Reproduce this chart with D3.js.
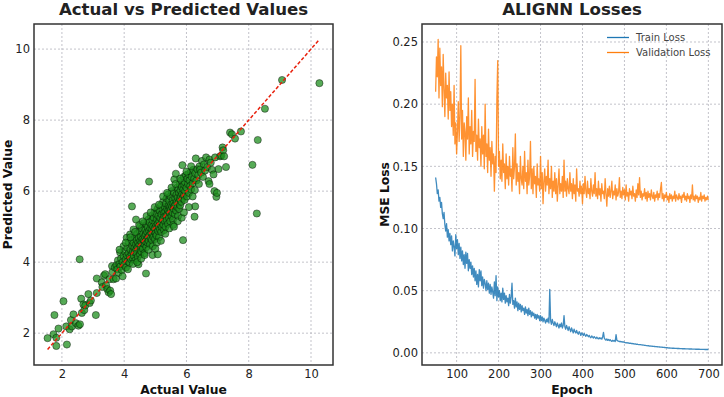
<!DOCTYPE html>
<html><head><meta charset="utf-8">
<script src="https://cdn.jsdelivr.net/npm/d3@7"></script>
<style>body{margin:0;background:#fff}svg{display:block}</style>
</head><body>
<svg id="c" width="724" height="397"></svg>
<script>
// ---------- Scatter data (Actual vs Predicted) ----------
const actual = [
1.54,1.73,1.76,1.82,1.82,1.89,2.05,2.14,2.16,2.25,2.29,2.32,2.37,2.45,2.53,2.57,2.58,2.62,2.64,2.69,
2.72,2.75,2.85,2.89,2.93,3.09,3.12,3.12,3.28,3.30,3.35,3.39,3.42,3.46,3.50,3.53,3.55,3.58,3.61,3.62,
3.66,3.70,3.74,3.75,3.78,3.80,3.82,3.85,3.87,3.88,3.90,3.92,3.95,3.98,3.98,4.00,4.02,4.05,4.06,4.08,
4.09,4.10,4.12,4.14,4.15,4.17,4.18,4.19,4.20,4.22,4.23,4.24,4.25,4.26,4.27,4.28,4.30,4.30,4.31,4.33,
4.34,4.35,4.36,4.38,4.39,4.40,4.41,4.42,4.43,4.44,4.45,4.46,4.47,4.48,4.49,4.50,4.51,4.51,4.52,4.53,
4.54,4.55,4.56,4.57,4.58,4.59,4.60,4.61,4.62,4.63,4.64,4.65,4.66,4.67,4.68,4.69,4.70,4.70,4.71,4.72,
4.73,4.74,4.75,4.76,4.77,4.78,4.79,4.80,4.80,4.81,4.82,4.83,4.84,4.85,4.86,4.87,4.88,4.89,4.90,4.91,
4.91,4.92,4.93,4.94,4.95,4.96,4.97,4.98,4.99,5.00,5.01,5.02,5.03,5.04,5.05,5.06,5.07,5.08,5.08,5.09,
5.10,5.11,5.12,5.13,5.14,5.15,5.16,5.17,5.18,5.19,5.20,5.21,5.22,5.23,5.24,5.25,5.26,5.27,5.28,5.29,
5.30,5.31,5.32,5.33,5.34,5.35,5.36,5.37,5.38,5.39,5.40,5.41,5.42,5.43,5.44,5.45,5.46,5.47,5.48,5.49,
5.50,5.51,5.52,5.53,5.54,5.55,5.56,5.57,5.58,5.59,5.60,5.61,5.62,5.63,5.64,5.65,5.66,5.67,5.68,5.69,
5.70,5.71,5.72,5.73,5.74,5.75,5.76,5.77,5.78,5.79,5.80,5.81,5.82,5.83,5.84,5.85,5.86,5.87,5.88,5.89,
5.90,5.91,5.92,5.93,5.94,5.95,5.96,5.98,6.00,6.02,6.03,6.05,6.06,6.08,6.10,6.12,6.14,6.15,6.17,6.20,
6.22,6.25,6.26,6.27,6.28,6.28,6.30,6.32,6.35,6.38,6.40,6.42,6.44,6.47,6.50,6.53,6.56,6.60,6.63,6.67,
6.71,6.74,6.74,6.78,6.82,6.87,6.90,6.92,6.96,6.98,7.03,7.08,7.12,7.16,7.18,7.21,7.27,7.40,7.46,7.56,
7.75,8.12,8.26,8.29,8.52,9.07,10.27,
4.05,4.12,4.20,4.28,4.35,4.42,4.48,4.55,4.60,4.66,4.72,4.78,4.85,4.92,4.98,5.05,5.12,5.18,5.25,5.32,
5.38,5.45,5.52,5.58,5.65,5.72,5.80,5.85,5.92,6.00,6.08,6.15,3.95,3.85,4.38,5.00,5.60,6.20];
const predicted = [
1.86,1.97,2.51,1.87,1.64,2.13,2.90,2.19,1.68,2.11,2.37,2.19,2.53,2.28,2.21,4.08,2.25,2.97,2.57,2.81,
2.65,2.78,3.10,2.85,2.92,2.51,3.13,3.54,3.43,3.30,3.62,3.66,3.35,3.24,3.15,3.52,3.20,3.10,3.89,3.72,
3.52,3.85,3.54,3.92,3.80,4.05,3.70,3.95,4.27,3.88,4.10,3.78,4.00,4.45,4.18,3.92,4.30,4.08,3.85,4.69,
4.19,4.40,4.02,4.25,4.55,3.98,4.15,4.78,4.35,4.08,4.62,4.22,5.57,4.45,4.12,4.30,4.92,4.55,4.18,4.40,
4.28,4.70,4.05,4.50,4.35,4.62,4.25,4.80,4.42,4.15,4.55,3.94,4.68,4.35,4.48,4.88,4.22,5.01,4.60,4.40,
4.72,4.30,4.55,4.95,4.45,4.65,4.38,4.80,4.52,5.10,4.62,4.25,4.72,4.50,4.90,4.58,3.68,4.78,4.42,5.05,
4.65,4.85,4.55,4.98,4.70,5.20,4.60,6.27,4.88,4.75,5.12,4.50,4.95,4.68,5.30,4.82,5.05,4.62,4.92,4.20,
5.18,4.78,5.00,4.70,5.25,4.88,5.40,4.95,4.65,5.10,4.82,5.35,5.02,4.75,5.20,4.95,5.50,4.22,5.08,4.88,
5.30,5.00,4.70,5.15,5.45,4.92,5.25,5.05,5.60,4.85,5.35,5.12,4.98,5.48,5.20,5.70,5.05,5.38,4.90,5.28,
5.55,5.15,5.42,5.00,5.65,5.30,5.80,5.18,5.50,5.35,5.90,5.08,5.45,5.60,5.25,5.72,5.40,5.55,5.15,5.85,
5.48,5.62,5.30,6.00,5.55,5.40,5.75,5.20,5.65,5.50,5.95,6.33,5.58,5.35,5.80,5.62,6.49,5.45,5.90,5.70,
6.10,5.55,5.82,5.30,6.05,5.68,5.95,5.50,6.20,5.78,5.60,6.02,5.85,6.30,5.70,6.12,5.92,6.73,5.80,4.62,
6.05,6.40,5.88,6.18,5.75,6.25,6.00,6.45,6.10,5.85,6.35,6.20,6.48,5.95,6.30,6.15,6.55,6.05,6.40,6.22,
6.60,6.35,5.28,6.03,5.57,6.50,6.92,6.30,6.62,6.45,6.20,6.70,6.61,6.52,6.85,6.40,6.75,6.58,6.95,6.68,
6.28,6.20,6.89,6.80,6.60,6.47,6.00,6.95,5.84,5.95,6.62,6.98,7.00,7.23,7.15,6.98,6.68,7.65,7.60,7.48,
7.68,6.74,5.37,7.44,8.32,9.13,9.04,
4.55,3.80,4.70,3.95,4.85,4.00,5.05,4.10,5.15,4.20,5.30,4.35,5.40,4.45,5.55,4.55,5.62,4.60,5.85,4.80,
5.95,4.95,6.10,5.05,6.20,5.15,6.35,5.25,5.40,6.55,5.55,6.70,3.60,4.35,5.20,4.38,5.00,5.85];
const scatterTicks = [2, 4, 6, 8, 10];

// ---------- Loss data (every 2nd epoch, 50..700) ----------
const epochs = d3.range(50, 701, 2);
const validationLoss = [
.210,.238,.222,.252,.205,.245,.215,.230,.198,.240,.212,.190,.225,.205,.215,.188,.226,.195,.210,.182,
.200,.175,.215,.168,.185,.160,.178,.202,.170,.190,.247,.172,.195,.158,.185,.178,.155,.190,.172,.205,
.160,.182,.168,.195,.158,.178,.170,.220,.162,.175,.155,.188,.165,.172,.150,.182,.160,.175,.148,.200,
.158,.168,.145,.180,.155,.165,.142,.170,.152,.160,.130,.158,.145,.205,.235,.150,.162,.140,.155,.138,
.168,.145,.152,.132,.160,.140,.150,.135,.158,.142,.148,.130,.165,.140,.150,.176,.135,.152,.138,.145,
.128,.158,.140,.135,.150,.132,.162,.138,.145,.128,.155,.135,.142,.170,.132,.148,.128,.150,.136,.142,
.125,.152,.135,.140,.130,.158,.132,.145,.120,.138,.148,.130,.142,.135,.155,.128,.140,.132,.150,.125,
.138,.130,.145,.128,.140,.122,.135,.148,.128,.136,.130,.142,.125,.155,.130,.138,.126,.140,.132,.128,
.145,.130,.136,.124,.140,.128,.135,.122,.148,.130,.132,.126,.138,.128,.134,.120,.136,.128,.142,.130,
.125,.138,.128,.132,.124,.140,.130,.126,.135,.128,.145,.126,.132,.124,.138,.127,.132,.122,.136,.128,
.130,.124,.140,.128,.118,.132,.126,.134,.125,.130,.138,.124,.130,.127,.135,.123,.132,.126,.129,.141,
.125,.130,.124,.133,.127,.131,.123,.135,.126,.129,.122,.132,.127,.130,.124,.134,.126,.128,.122,.131,
.125,.136,.127,.141,.125,.130,.123,.128,.126,.132,.124,.129,.122,.130,.125,.128,.123,.131,.126,.124,
.129,.122,.127,.125,.130,.123,.128,.125,.132,.137,.124,.128,.122,.127,.125,.129,.123,.126,.121,.128,
.124,.127,.122,.126,.124,.130,.122,.127,.125,.123,.128,.124,.126,.121,.127,.125,.129,.123,.126,.122,
.128,.124,.126,.121,.127,.124,.135,.123,.126,.122,.127,.124,.126,.121,.125,.123,.129,.122,.126,.124,
.127,.122,.125,.123,.126,.123];
const trainLoss = [
.141,.136,.128,.131,.122,.125,.117,.121,.112,.108,.113,.103,.098,.104,.093,.099,.090,.096,.087,.094,
.082,.090,.085,.078,.095,.084,.091,.079,.088,.076,.085,.074,.082,.071,.079,.068,.081,.072,.080,.066,
.075,.068,.073,.063,.070,.061,.068,.058,.066,.055,.063,.053,.067,.058,.066,.054,.061,.052,.059,.056,
.050,.058,.051,.056,.048,.055,.047,.053,.049,.044,.057,.046,.062,.042,.053,.045,.050,.042,.048,.041,
.052,.043,.048,.040,.046,.041,.044,.038,.047,.040,.045,.056,.039,.042,.036,.044,.037,.041,.034,.040,
.035,.039,.033,.038,.034,.036,.031,.037,.032,.035,.030,.036,.031,.034,.029,.033,.030,.032,.028,.031,
.027,.031,.028,.030,.026,.030,.026,.029,.025,.028,.026,.024,.027,.025,.028,.024,.051,.026,.023,.027,
.024,.022,.025,.023,.021,.024,.022,.020,.023,.021,.024,.020,.022,.030,.021,.019,.022,.020,.018,.021,
.019,.017,.020,.018,.016,.019,.017,.016,.018,.016,.015,.017,.016,.014,.016,.0150,.0140,.0158,.0142,.0133,
.0148,.0138,.0130,.0141,.0128,.0122,.0136,.0127,.0120,.0131,.0122,.0114,.0127,.0118,.0112,.0122,.0113,.0120,.0110,.0128,
.0165,.0118,.0108,.0102,.0112,.0100,.0108,.0098,.0106,.0097,.0092,.0101,.0094,.0099,.0091,.0147,.0100,.0096,.0094,.0090,
.0093,.0088,.0091,.0086,.0088,.0085,.0083,.0081,.0083,.0079,.0080,.0077,.0078,.0075,.0077,.0073,.0074,.0071,.0072,.0069,
.0070,.0068,.0067,.0066,.0067,.0064,.0064,.0062,.0063,.0060,.0060,.0059,.0058,.0057,.0057,.0055,.0055,.0054,.0053,.0052,
.0052,.0051,.0050,.0050,.0049,.0048,.0048,.0047,.0046,.0046,.0045,.0044,.0044,.0043,.0042,.0042,.0041,.0040,.0039,.0039,
.0038,.0038,.0037,.0037,.0037,.0036,.0036,.0036,.0035,.0035,.0035,.0034,.0034,.0034,.0033,.0033,.0033,.0033,.0032,.0032,
.0032,.0032,.0031,.0031,.0031,.0031,.0030,.0030,.0030,.0030,.0029,.0029,.0029,.0029,.0029,.0028,.0028,.0028,.0028,.0028,
.0028,.0027,.0027,.0027,.0027,.0027];
const lossTicks = [0.00, 0.05, 0.10, 0.15, 0.20, 0.25];
const epochTicks = [100, 200, 300, 400, 500, 600, 700];
const seriesNames = ["Train Loss", "Validation Loss"];
const seriesColors = ["#1f77b4", "#ff7f0e"];

// ---------- Drawing ----------
const svg = d3.select("#c");
const FONT = "DejaVu Sans, Verdana, sans-serif";
const L = {x0: 34, x1: 333, y0: 24, y1: 365};
const R = {x0: 422, x1: 722, y0: 24, y1: 365};

function padDomain(mn, mx) { const r = mx - mn; return [mn - 0.05 * r, mx + 0.05 * r]; }

function drawGrid(g, box, xs, ys, xt, yt) {
  const grid = g.append("g").attr("stroke", "#b4b4bc").attr("stroke-width", 0.8)
    .attr("stroke-dasharray", "2,2");
  grid.selectAll(".gx").data(xt).join("line")
    .attr("x1", d => xs(d)).attr("x2", d => xs(d)).attr("y1", box.y0).attr("y2", box.y1);
  grid.selectAll(".gy").data(yt).join("line")
    .attr("y1", d => ys(d)).attr("y2", d => ys(d)).attr("x1", box.x0).attr("x2", box.x1);
}

function drawAxes(g, box, xs, ys, xt, yt, xfmt, yfmt, xlabel, ylabel, ylabelX, title) {
  const ax = g.append("g").attr("transform", `translate(0,${box.y1})`)
    .call(d3.axisBottom(xs).tickValues(xt).tickSize(0).tickPadding(5).tickFormat(xfmt));
  const ay = g.append("g").attr("transform", `translate(${box.x0},0)`)
    .call(d3.axisLeft(ys).tickValues(yt).tickSize(0).tickPadding(4).tickFormat(yfmt));
  [ax, ay].forEach(a => {
    a.select(".domain").remove();
    a.attr("font-family", FONT).attr("font-size", 11.5);
    a.selectAll("text").attr("fill", "#222");
  });
  g.append("rect").attr("x", box.x0).attr("y", box.y0)
    .attr("width", box.x1 - box.x0).attr("height", box.y1 - box.y0)
    .attr("fill", "none").attr("stroke", "#333").attr("stroke-width", 1.5);
  g.append("text").attr("x", (box.x0 + box.x1) / 2).attr("y", 393.5)
    .attr("text-anchor", "middle").attr("font-family", FONT).attr("font-weight", "bold")
    .attr("font-size", 12.3).attr("fill", "#111").text(xlabel);
  g.append("text").attr("transform", `translate(${ylabelX},${(box.y0 + box.y1) / 2}) rotate(-90)`)
    .attr("text-anchor", "middle").attr("font-family", FONT).attr("font-weight", "bold")
    .attr("font-size", 12.3).attr("fill", "#111").text(ylabel);
  g.append("text").attr("x", (box.x0 + box.x1) / 2).attr("y", 15)
    .attr("text-anchor", "middle").attr("font-family", FONT).attr("font-weight", "bold")
    .attr("font-size", 16.6).attr("fill", "#222").text(title);
}

// Left: scatter
{
  const g = svg.append("g");
  const allMin = Math.min(d3.min(actual), d3.min(predicted));
  const allMax = Math.max(d3.max(actual), d3.max(predicted));
  const dom = padDomain(allMin, allMax);
  const xs = d3.scaleLinear().domain(dom).range([L.x0, L.x1]);
  const ys = d3.scaleLinear().domain(dom).range([L.y1, L.y0]);
  drawGrid(g, L, xs, ys, scatterTicks, scatterTicks);
  g.append("g").selectAll("circle").data(actual).join("circle")
    .attr("cx", d => xs(d)).attr("cy", (d, i) => ys(predicted[i])).attr("r", 3.6)
    .attr("fill", "#1f8f1f").attr("fill-opacity", 0.75)
    .attr("stroke", "#000").attr("stroke-opacity", 0.6).attr("stroke-width", 0.7);
  const lo = d3.min(actual), hi = d3.max(actual);
  g.append("line").attr("x1", xs(lo)).attr("y1", ys(lo)).attr("x2", xs(hi)).attr("y2", ys(hi))
    .attr("stroke", "#e8200c").attr("stroke-width", 1.5).attr("stroke-dasharray", "3.5,2");
  drawAxes(g, L, xs, ys, scatterTicks, scatterTicks, d3.format("d"), d3.format("d"),
    "Actual Value", "Predicted Value", 11.5, "Actual vs Predicted Values");
}

// Right: losses
{
  const g = svg.append("g");
  const xs = d3.scaleLinear().domain(padDomain(d3.min(epochs), d3.max(epochs))).range([R.x0, R.x1]);
  const ys = d3.scaleLinear()
    .domain(padDomain(Math.min(d3.min(trainLoss), d3.min(validationLoss)), Math.max(d3.max(trainLoss), d3.max(validationLoss))))
    .range([R.y1, R.y0]);
  drawGrid(g, R, xs, ys, epochTicks, lossTicks);
  const line = d3.line().x((d, i) => xs(epochs[i])).y(d => ys(d));
  [trainLoss, validationLoss].forEach((s, k) => {
    g.append("path").datum(s).attr("d", line).attr("fill", "none")
      .attr("stroke", seriesColors[k]).attr("stroke-width", 1.3).attr("stroke-opacity", 0.85)
      .attr("stroke-linejoin", "round");
  });
  drawAxes(g, R, xs, ys, epochTicks, lossTicks, d3.format("d"), d3.format(".2f"),
    "Epoch", "MSE Loss", 389, "ALIGNN Losses");
  const lg = g.append("g").attr("font-family", FONT).attr("font-size", 10);
  seriesNames.forEach((n, k) => {
    const y = 37.5 + k * 15;
    lg.append("line").attr("x1", 607).attr("x2", 629).attr("y1", y).attr("y2", y)
      .attr("stroke", seriesColors[k]).attr("stroke-width", 1.3);
    lg.append("text").attr("x", 636).attr("y", y + 3.6).attr("fill", "#444").text(n);
  });
}
</script>
</body></html>
